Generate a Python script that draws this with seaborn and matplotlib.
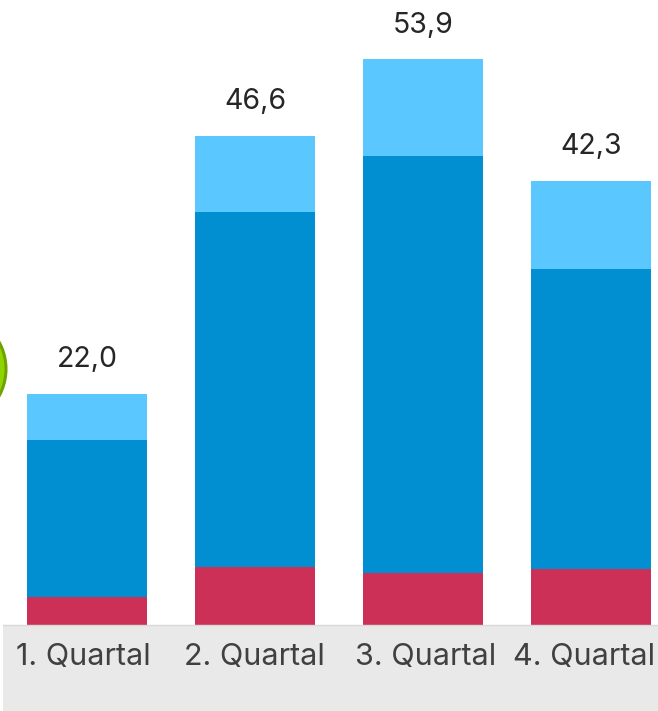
import matplotlib
matplotlib.use('Agg')
import matplotlib.pyplot as plt
from matplotlib.patches import Circle, Rectangle
import numpy as np
import pandas as pd
import seaborn as sns

quartale = ['1. Quartal', '2. Quartal', '3. Quartal', '4. Quartal']
unten = [2.7, 5.5, 5.0, 5.3]
mitte = [14.9, 33.8, 39.7, 28.6]
oben = [4.4, 7.3, 9.2, 8.4]
summen = ['22,0', '46,6', '53,9', '42,3']

# kleine Verschiebung der Achsenbeschriftung in Pixeln, wie im Original
label_shift = [-4, -1, 3, -7]

W, H = 658, 711
sns.set_theme(style='white')
plt.rcParams['font.family'] = ['Inter', 'DejaVu Sans']

df = pd.DataFrame({'Quartal': quartale, 'unten': unten, 'mitte': mitte, 'oben': oben})
df['bis_mitte'] = df['unten'] + df['mitte']
df['gesamt'] = df['bis_mitte'] + df['oben']

fig = plt.figure(figsize=(W / 100, H / 100), dpi=100)
# Achse so gesetzt, dass die Grundlinie bei y=625 liegt
ax = fig.add_axes([3 / W, (H - 625) / H, (W - 3) / W, 625 / H])
ax.set_zorder(2)
ax.patch.set_alpha(0)

# gestapelt: von hinten nach vorne zeichnen
sns.barplot(data=df, x='Quartal', y='gesamt', color='#5AC8FF', saturation=1, width=0.714, linewidth=0, ax=ax)
sns.barplot(data=df, x='Quartal', y='bis_mitte', color='#028FD2', saturation=1, width=0.714, linewidth=0, ax=ax)
sns.barplot(data=df, x='Quartal', y='unten', color='#CC3056', saturation=1, width=0.714, linewidth=0, ax=ax)

# 168 px Balkenabstand, erster Balken bei x=87
px = 1 / 168
ax.set_xlim(-(87 - 3) * px, (W - 87) * px)
ax.set_ylim(0, 625 / 10.5)
ax.set_xlabel('')
ax.set_ylabel('')
ax.set_yticks([])
ax.set_xticks(range(len(quartale)))
ax.set_xticklabels([])
ax.tick_params(axis='x', length=0)
sns.despine(ax=ax, left=True, bottom=True)
ax.spines['bottom'].set_visible(True)
ax.spines['bottom'].set_color('#D9D9D9')
ax.spines['bottom'].set_linewidth(1)

for i, (q, s, g) in enumerate(zip(quartale, summen, df['gesamt'])):
    ax.annotate(s, (i, g), xytext=(0, 34), textcoords='offset pixels', ha='center',
                va='center', fontsize=20.5, color='#262626', annotation_clip=False)
    ax.annotate(q, (i, 0), xytext=(label_shift[i], -32), textcoords='offset pixels', ha='center',
                va='center', fontsize=22, color='#404040', annotation_clip=False)

# grauer Streifen unter der Achse
fig.add_artist(Rectangle((3 / W, 0), (W - 3) / W, (H - 625) / H, transform=fig.transFigure,
                         facecolor='#E9E9E9', edgecolor='none', zorder=0))

# angeschnittener gruener Kreis am linken Rand
bg = fig.add_axes([0, 0, 1, 1], zorder=0)
bg.set_xlim(0, W)
bg.set_ylim(H, 0)
bg.axis('off')
bg.add_patch(Circle((-50, 369), 56, facecolor='#8FD400', edgecolor='#6FA300', linewidth=2.2))

fig.savefig('out.png', dpi=100)
